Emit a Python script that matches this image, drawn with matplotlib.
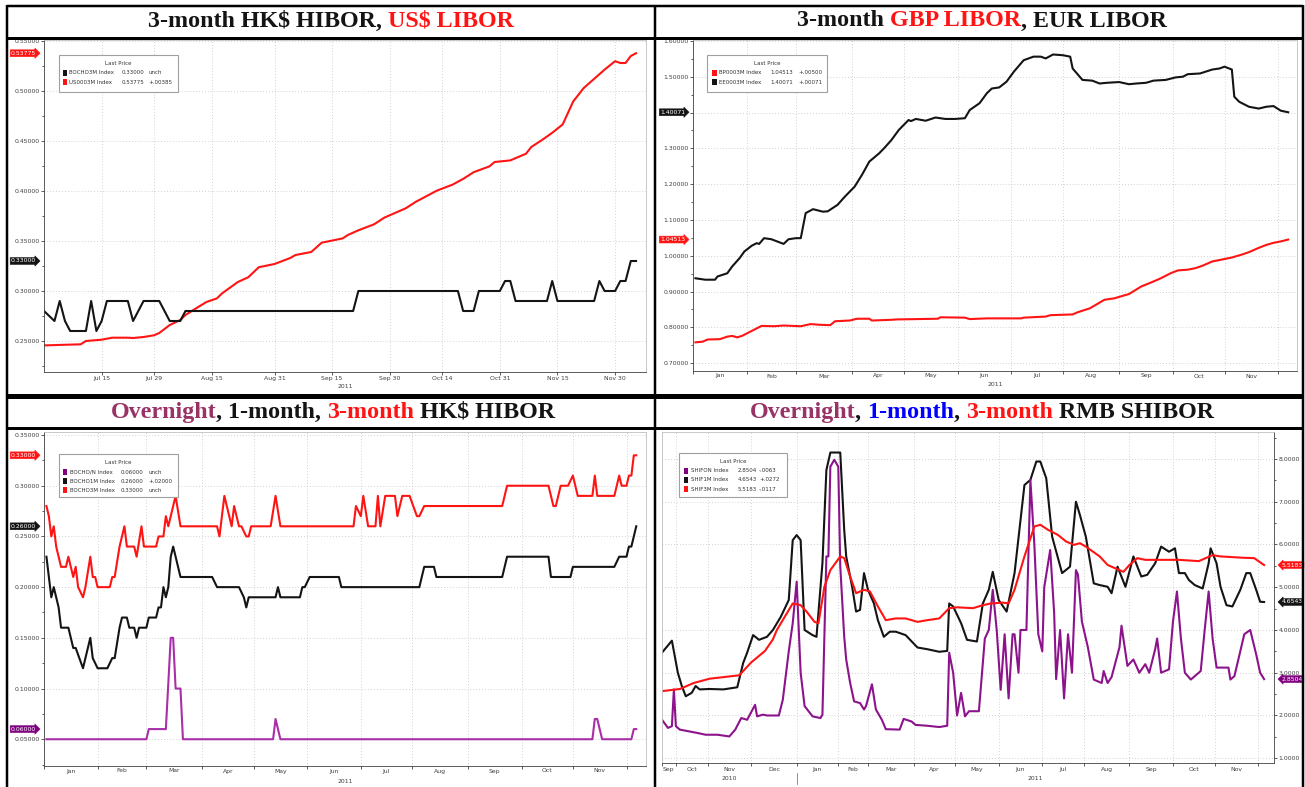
import numpy as np
import matplotlib
matplotlib.use("Agg")
import matplotlib.pyplot as plt
from matplotlib.patches import Rectangle
from matplotlib.lines import Line2D

W, H = 1305, 787
RED = "#ff1414"
BLACK = "#141414"
PURPLE_HK = "#a82fa8"
PURPLE_CN = "#8c138c"
PLUM = "#993366"
BLUE = "#0000ff"
SMALL = 4.4
LEG = 4.0

# ---------------- panel 1: 3M HIBOR / 3M USD LIBOR (business days from 2011-06-30)
p1_start = "2011-06-30"
p1_tick_dates = ["2011-07-15", "2011-07-29", "2011-08-15", "2011-08-31", "2011-09-15",
                 "2011-09-30", "2011-10-14", "2011-10-31", "2011-11-15", "2011-11-30"]
p1_tick_labels = ["Jul 15", "Jul 29", "Aug 15", "Aug 31", "Sep 15",
                  "Sep 30", "Oct 14", "Oct 31", "Nov 15", "Nov 30"]

hibor3m_day = [0, 2, 3, 4, 5, 8, 9, 10, 11, 12, 16, 17, 19, 22, 24, 26, 27, 59, 60, 79,
               80, 82, 83, 87, 88, 89, 90, 96, 97, 98, 105, 106, 107, 109, 110, 111, 112, 113]
hibor3m_rate = [0.28, 0.27, 0.29, 0.27, 0.26, 0.26, 0.29, 0.26, 0.27, 0.29,
                0.29, 0.27, 0.29, 0.29, 0.27, 0.27, 0.28, 0.28, 0.30, 0.30,
                0.28, 0.28, 0.30, 0.30, 0.31, 0.31, 0.29, 0.29, 0.31, 0.29,
                0.29, 0.31, 0.30, 0.30, 0.31, 0.31, 0.33, 0.33]

usd3m_day = [0, 7, 8, 11, 13, 16, 17, 19, 21, 22, 24, 26, 27, 29, 31, 33, 34, 37, 39, 41,
             44, 47, 48, 51, 53, 57, 58, 60, 63, 65, 69, 71, 75, 78, 80, 82, 85, 86, 89, 92,
             93, 95, 97, 99, 101, 103, 107, 109, 110, 111, 112, 113]
usd3m_rate = [0.2456, 0.2467, 0.2500, 0.2513, 0.2533, 0.2533, 0.2530, 0.2540, 0.2557, 0.2580,
              0.2660, 0.2710, 0.2760, 0.2826, 0.2890, 0.2926, 0.2977, 0.3090, 0.3138, 0.3238,
              0.3270, 0.3330, 0.3360, 0.3390, 0.3483, 0.3526, 0.3560, 0.3607, 0.3667, 0.3735,
              0.3826, 0.3893, 0.4004, 0.4064, 0.4121, 0.4188, 0.4246, 0.4290, 0.4306, 0.4373,
              0.4440, 0.4508, 0.4582, 0.4666, 0.4895, 0.5029, 0.5214, 0.5298, 0.5280, 0.5280,
              0.5350, 0.53775]

# ---------------- panels 2 and 3: business days from 2011-01-03
y2011_start = "2011-01-03"
y2011_bounds = ["2011-01-01", "2011-02-01", "2011-03-01", "2011-04-01", "2011-05-01", "2011-06-01",
                "2011-07-01", "2011-08-01", "2011-09-01", "2011-10-01", "2011-11-01", "2011-12-01"]
y2011_labels = ["Jan", "Feb", "Mar", "Apr", "May", "Jun", "Jul", "Aug", "Sep", "Oct", "Nov"]

eur3m_day = [0, 4, 8, 9, 13, 15, 18, 20, 23, 25, 26, 28, 31, 36, 38, 41, 43, 45, 48, 52,
             54, 58, 61, 65, 68, 71, 75, 77, 80, 83, 87, 88, 90, 94, 98, 102, 106, 110, 112, 116,
             119, 121, 124, 127, 130, 134, 138, 141, 143, 146, 150, 153, 154, 158, 162, 165, 168, 173, 177, 180,
             184, 187, 192, 196, 199, 201, 206, 211, 214, 216, 219, 220, 222, 226, 230, 233, 236, 239, 242]
eur3m_rate = [0.937, 0.933, 0.933, 0.942, 0.951, 0.970, 0.993, 1.012, 1.028, 1.035,
              1.033, 1.049, 1.046, 1.033, 1.046, 1.049, 1.049, 1.119, 1.130, 1.123,
              1.124, 1.142, 1.165, 1.193, 1.226, 1.263, 1.286, 1.300, 1.323, 1.351,
              1.379, 1.376, 1.382, 1.377, 1.386, 1.382, 1.382, 1.384, 1.407, 1.426,
              1.454, 1.467, 1.470, 1.486, 1.514, 1.546, 1.556, 1.556, 1.551, 1.562,
              1.560, 1.556, 1.523, 1.491, 1.489, 1.481, 1.483, 1.485, 1.479, 1.481,
              1.483, 1.489, 1.491, 1.498, 1.500, 1.507, 1.509, 1.520, 1.523, 1.528,
              1.520, 1.444, 1.430, 1.416, 1.411, 1.416, 1.418, 1.405, 1.40071]

gbp3m_day = [0, 3, 5, 10, 13, 15, 17, 19, 21, 25, 27, 32, 36, 43, 47, 51, 55, 57, 63, 66,
             71, 72, 80, 82, 99, 100, 110, 112, 119, 133, 134, 143, 145, 154, 156, 161, 167, 171, 177, 182,
             187, 190, 194, 197, 201, 204, 207, 211, 214, 219, 223, 226, 230, 233, 236, 239, 242]
gbp3m_rate = [0.758, 0.760, 0.766, 0.767, 0.774, 0.776, 0.772, 0.776, 0.783, 0.797,
              0.804, 0.803, 0.805, 0.803, 0.809, 0.807, 0.806, 0.817, 0.819, 0.824,
              0.824, 0.819, 0.821, 0.822, 0.824, 0.828, 0.827, 0.823, 0.825, 0.825,
              0.827, 0.830, 0.834, 0.836, 0.842, 0.853, 0.877, 0.881, 0.893, 0.914,
              0.928, 0.937, 0.951, 0.959, 0.961, 0.965, 0.972, 0.984, 0.988, 0.995,
              1.003, 1.010, 1.022, 1.030, 1.036, 1.040, 1.04513]

hk3m_day = [0, 1, 2, 3, 4, 6, 8, 9, 10, 11, 12, 13, 15, 16, 18, 19, 20, 21, 26, 27,
            28, 30, 32, 33, 36, 37, 39, 40, 45, 46, 48, 49, 50, 53, 55, 70, 71, 73, 76, 77,
            79, 80, 82, 83, 84, 92, 94, 96, 126, 127, 129, 130, 132, 135, 136, 137, 139, 143, 144, 146,
            149, 152, 153, 155, 187, 189, 206, 208, 209, 211, 214, 216, 218, 224, 225, 226, 233, 235, 236, 238,
            239, 240, 241, 242]
hk3m_rate = [0.28, 0.27, 0.25, 0.26, 0.24, 0.22, 0.22, 0.23, 0.22, 0.21,
             0.22, 0.20, 0.19, 0.20, 0.23, 0.21, 0.21, 0.20, 0.20, 0.21,
             0.21, 0.24, 0.26, 0.24, 0.24, 0.23, 0.26, 0.24, 0.24, 0.25,
             0.25, 0.27, 0.26, 0.29, 0.26, 0.26, 0.25, 0.29, 0.26, 0.28,
             0.26, 0.26, 0.25, 0.25, 0.26, 0.26, 0.29, 0.26, 0.26, 0.28,
             0.27, 0.29, 0.26, 0.26, 0.29, 0.26, 0.29, 0.29, 0.27, 0.29,
             0.29, 0.27, 0.27, 0.28, 0.28, 0.30, 0.30, 0.28, 0.28, 0.30,
             0.30, 0.31, 0.29, 0.29, 0.31, 0.29, 0.29, 0.31, 0.30, 0.30,
             0.31, 0.31, 0.33, 0.33]

hk1m_day = [0, 1, 2, 3, 5, 6, 9, 11, 12, 15, 18, 19, 21, 25, 27, 28, 30, 31, 33, 34,
            36, 37, 38, 41, 42, 45, 46, 47, 48, 49, 50, 51, 52, 54, 55, 68, 70, 79, 81, 82,
            83, 94, 95, 96, 104, 105, 106, 108, 120, 121, 153, 155, 159, 160, 187, 189, 206, 207, 215, 216,
            233, 235, 238, 239, 240, 242]
hk1m_rate = [0.23, 0.21, 0.19, 0.20, 0.18, 0.16, 0.16, 0.14, 0.14, 0.12,
             0.15, 0.13, 0.12, 0.12, 0.13, 0.13, 0.16, 0.17, 0.17, 0.16,
             0.16, 0.15, 0.16, 0.16, 0.17, 0.17, 0.18, 0.18, 0.20, 0.19,
             0.20, 0.23, 0.24, 0.22, 0.21, 0.21, 0.20, 0.20, 0.19, 0.18,
             0.19, 0.19, 0.20, 0.19, 0.19, 0.20, 0.20, 0.21, 0.21, 0.20,
             0.20, 0.22, 0.22, 0.21, 0.21, 0.23, 0.23, 0.21, 0.21, 0.22,
             0.22, 0.23, 0.23, 0.24, 0.24, 0.26]

hkon_day = [0, 41, 42, 49, 51, 52, 53, 55, 56, 93, 94, 96, 224, 225, 226, 228, 240, 241, 242]
hkon_rate = [0.05, 0.05, 0.06, 0.06, 0.15, 0.15, 0.10, 0.10, 0.05, 0.05,
             0.07, 0.05, 0.05, 0.07, 0.07, 0.05, 0.05, 0.06, 0.06]

# ---------------- panel 4: SHIBOR, Chinese business days from 2010-09-22
cn_start = "2010-09-22"
cn_holidays = ["2010-10-01", "2010-10-04", "2010-10-05", "2010-10-06", "2010-10-07",
               "2011-02-02", "2011-02-03", "2011-02-04", "2011-02-07", "2011-02-08"]
cn_bounds = ["2010-09-22", "2010-10-01", "2010-11-01", "2010-12-01", "2011-01-01", "2011-02-01",
             "2011-03-01", "2011-04-01", "2011-05-01", "2011-06-01", "2011-07-01", "2011-08-01",
             "2011-09-01", "2011-10-01", "2011-11-01", "2011-12-01"]
cn_labels = ["Sep", "Oct", "Nov", "Dec", "Jan", "Feb", "Mar", "Apr", "May", "Jun",
             "Jul", "Aug", "Sep", "Oct", "Nov"]

shib1m_day = [0, 5, 8, 10, 12, 15, 17, 19, 24, 31, 38, 41, 43, 46, 49, 53, 56, 60, 64, 66,
              68, 70, 72, 76, 78, 81, 83, 85, 90, 92, 93, 96, 98, 100, 102, 104, 107, 109, 112, 115,
              118, 123, 129, 134, 140, 144, 145, 147, 151, 154, 159, 162, 165, 167, 170, 174, 178, 183, 186, 189,
              191, 194, 197, 202, 206, 209, 211, 214, 218, 221, 225, 227, 230, 234, 238, 242, 245, 249, 252, 256,
              259, 261, 264, 266, 269, 273, 276, 277, 280, 282, 285, 288, 292, 295, 297, 300, 302, 304]
shib1m_rate = [3.47, 3.75, 3.00, 2.69, 2.45, 2.53, 2.69, 2.61, 2.62, 2.61,
               2.66, 3.23, 3.47, 3.88, 3.77, 3.84, 4.00, 4.31, 4.70, 6.10,
               6.22, 6.10, 4.00, 3.88, 3.84, 5.56, 7.74, 8.15, 8.15, 6.34,
               5.72, 5.01, 4.43, 4.47, 5.33, 4.94, 4.62, 4.23, 3.84, 3.96,
               3.96, 3.88, 3.59, 3.55, 3.49, 3.51, 4.62, 4.55, 4.16, 3.77,
               3.73, 4.62, 4.94, 5.36, 4.70, 4.43, 5.33, 7.39, 7.51, 7.94,
               7.94, 7.55, 6.18, 5.33, 5.48, 7.00, 6.69, 6.18, 5.09, 5.05,
               5.01, 4.86, 5.48, 5.01, 5.72, 5.25, 5.29, 5.56, 5.95, 5.83,
               5.91, 5.33, 5.33, 5.17, 5.05, 4.97, 5.56, 5.91, 5.56, 5.01,
               4.58, 4.55, 4.94, 5.33, 5.33, 4.94, 4.66, 4.6543]

shib3m_day = [0, 9, 16, 24, 39, 45, 52, 56, 58, 62, 66, 70, 73, 77, 79, 82, 85, 90, 92, 95,
              98, 102, 105, 109, 113, 118, 123, 129, 134, 140, 145, 149, 157, 162, 166, 172, 175, 178, 183, 188,
              191, 195, 200, 204, 208, 211, 214, 221, 225, 229, 233, 236, 240, 244, 250, 261, 271, 278, 282, 293,
              299, 303, 304]
shib3m_rate = [2.57, 2.62, 2.76, 2.86, 2.94, 3.24, 3.51, 3.78, 4.00, 4.31,
               4.62, 4.58, 4.43, 4.19, 4.16, 5.01, 5.40, 5.72, 5.68, 5.25,
               4.86, 4.94, 4.90, 4.55, 4.23, 4.27, 4.27, 4.19, 4.23, 4.27,
               4.51, 4.53, 4.51, 4.58, 4.62, 4.64, 4.62, 4.94, 5.72, 6.42,
               6.46, 6.34, 6.22, 6.07, 5.99, 6.03, 5.95, 5.72, 5.52, 5.44,
               5.36, 5.52, 5.68, 5.64, 5.64, 5.64, 5.61, 5.75, 5.72, 5.69,
               5.68, 5.55, 5.5183]

shibon_day = [0, 3, 5, 6, 7, 9, 18, 22, 28, 34, 37, 40, 43, 47, 48, 51, 53, 59, 61, 64,
              66, 68, 70, 72, 76, 80, 81, 83, 84, 85, 87, 89, 90, 92, 93, 95, 97, 100, 102, 103,
              106, 108, 111, 113, 120, 122, 126, 128, 134, 140, 144, 145, 147, 149, 151, 153, 155, 160, 163, 165,
              167, 169, 171, 173, 175, 177, 178, 180, 181, 184, 186, 188, 190, 192, 193, 196, 198, 199, 201, 203,
              205, 207, 209, 210, 212, 215, 218, 220, 222, 223, 225, 227, 231, 232, 235, 238, 241, 244, 246, 249,
              250, 252, 256, 258, 260, 262, 264, 267, 272, 274, 276, 278, 280, 286, 287, 289, 291, 294, 297, 300,
              302, 304]
shibon_rate = [1.90, 1.71, 1.75, 2.61, 1.75, 1.67, 1.59, 1.55, 1.55, 1.51,
               1.67, 1.94, 1.90, 2.25, 1.98, 2.02, 2.00, 2.00, 2.37, 3.50,
               4.16, 5.13, 3.00, 2.22, 1.98, 1.94, 2.02, 5.72, 5.72, 7.82,
               7.98, 7.82, 5.50, 3.84, 3.31, 2.76, 2.33, 2.29, 2.14, 2.22,
               2.73, 2.14, 1.90, 1.68, 1.67, 1.92, 1.86, 1.78, 1.76, 1.73,
               1.76, 3.47, 3.00, 2.00, 2.53, 1.98, 2.10, 2.10, 3.80, 4.00,
               4.94, 4.00, 2.60, 3.90, 2.40, 3.90, 3.90, 3.00, 4.00, 4.00,
               7.51, 6.00, 3.90, 3.50, 5.00, 5.87, 4.40, 2.85, 4.00, 2.40,
               3.90, 3.00, 5.40, 5.30, 4.20, 3.60, 2.84, 2.80, 2.76, 3.04,
               2.76, 2.90, 3.60, 4.10, 3.16, 3.31, 3.00, 3.20, 3.00, 3.55,
               3.80, 3.00, 3.08, 4.20, 4.90, 3.80, 3.00, 2.84, 3.04, 4.00,
               4.90, 3.80, 3.12, 3.12, 2.84, 2.92, 3.31, 3.90, 4.00, 3.43,
               3.00, 2.8504]

# legend tickers / last change, as printed on the Bloomberg screens
p1_legend = [("BOCHO3M", "unch"), ("US0003M", "+.00385")]
p2_legend = [("BP0003M", "+.00500"), ("EE0003M", "+.00071")]
p3_legend = [("BOCHO/N", "unch"), ("BOCHO1M", "+.02000"), ("BOCHO3M", "unch")]
p4_legend = [("SHIFON", "-.0063"), ("SHIF1M", "+.0272"), ("SHIF3M", "-.0117")]


def frect(x0, y0, x1, y1):
    return [x0 / W, 1 - y1 / H, (x1 - x0) / W, (y1 - y0) / H]


fig = plt.figure(figsize=(W / 100, H / 100), dpi=100)
fig.patch.set_facecolor("white")


def base_axes(rect, xlim, ylim, yticks, yminor, fmt, side="left", tags=()):
    ax = fig.add_axes(frect(*rect))
    ax.set_xlim(*xlim)
    ax.set_ylim(*ylim)
    ax.set_yticks(yticks)
    # a last-price tag drawn on top of a tick label hides it, as on the terminal
    span = ylim[1] - ylim[0]
    ax.set_yticklabels(["" if any(abs(v - t) < 0.03 * span for t in tags) else fmt % v
                        for v in yticks])
    ax.set_yticks(yminor, minor=True)
    ax.grid(True, which="major", color="#c4c4c4", ls=(0, (1, 2.5)), lw=0.6)
    for s in ax.spines.values():
        s.set_color("#c0c0c0")
        s.set_linewidth(0.6)
    ax.spines["bottom"].set_color("#404040")
    ax.spines[side].set_color("#404040")
    ax.tick_params(which="both", labelsize=SMALL, colors="#404040", direction="out",
                   width=0.6, length=2.2, pad=1.0)
    ax.tick_params(axis="y", which="minor", length=1.5)
    if side == "right":
        ax.yaxis.tick_right()
    ax.set_axisbelow(True)
    return ax


def month_axis(ax, start, bounds, labels, holidays=(), pad=1.8):
    pos = np.busday_count(start, bounds, holidays=list(holidays))
    ax.set_xticks(pos)
    ax.set_xticklabels([])
    ax.set_xticks((pos[:-1] + pos[1:]) / 2, minor=True)
    ax.set_xticklabels(labels, minor=True)
    ax.tick_params(axis="x", which="minor", length=0, pad=pad)
    return pos


def year_label(ax, x, text, dy_px):
    h = ax.get_position().height * H
    ax.text(x, -dy_px / h, text, transform=ax.get_xaxis_transform(), ha="center", va="center",
            fontsize=SMALL, color="#404040", clip_on=False)


def value_tag(ax, value, text, color, side="left"):
    if side == "left":
        ax.annotate(text, xy=(0, value), xycoords=("axes fraction", "data"), xytext=(-5.5, 0),
                    textcoords="offset points", ha="right", va="center", fontsize=SMALL,
                    color="white", annotation_clip=False, zorder=6,
                    bbox=dict(boxstyle="rarrow,pad=0.15", fc=color, ec=color, lw=0.4))
    else:
        ax.annotate(text, xy=(1, value), xycoords=("axes fraction", "data"), xytext=(5.5, 0),
                    textcoords="offset points", ha="left", va="center", fontsize=SMALL,
                    color="white", annotation_clip=False, zorder=6,
                    bbox=dict(boxstyle="larrow,pad=0.15", fc=color, ec=color, lw=0.4))


def legend_box(x0, y0, x1, y1, rows, offs):
    fig.add_artist(Rectangle((x0 / W, 1 - y1 / H), (x1 - x0) / W, (y1 - y0) / H,
                             transform=fig.transFigure, fc="white", ec="#a0a0a0", lw=0.8, zorder=5))
    fig.text((x0 + x1) / 2 / W, 1 - (y0 + 8.5) / H, "Last Price", ha="center", va="center",
             fontsize=LEG, color="#333333", zorder=6)
    for k, (color, name, value, change) in enumerate(rows):
        yy = y0 + 18 + k * 9.2
        fig.add_artist(Rectangle(((x0 + offs[0]) / W, 1 - (yy + 3) / H), 4.5 / W, 6 / H,
                                 transform=fig.transFigure, fc=color, ec="none", zorder=6))
        for dx, s in zip(offs[1:], (name + " Index", value, change)):
            fig.text((x0 + dx) / W, 1 - yy / H, s, ha="left", va="center", fontsize=LEG,
                     color="#333333", zorder=6)


LW = 1.5

# ---------------- panel 1
ax1 = base_axes((44, 40, 646, 372), (0, 114.9), (0.219, 0.551),
                np.arange(0.25, 0.551, 0.05), np.arange(0.225, 0.551, 0.05), "%.5f")
ax1.set_xticks(np.busday_count(p1_start, p1_tick_dates))
ax1.set_xticklabels(p1_tick_labels)
ax1.plot(usd3m_day, usd3m_rate, color=RED, lw=LW)
ax1.plot(hibor3m_day, hibor3m_rate, color=BLACK, lw=LW)
year_label(ax1, np.mean(ax1.get_xlim()), "2011", 14.5)
value_tag(ax1, usd3m_rate[-1], "%.5f" % usd3m_rate[-1], RED)
value_tag(ax1, hibor3m_rate[-1], "%.5f" % hibor3m_rate[-1], BLACK)
legend_box(58.6, 55, 177.8, 91.7,
           [(BLACK, p1_legend[0][0], "%.5f" % hibor3m_rate[-1], p1_legend[0][1]),
            (RED, p1_legend[1][0], "%.5f" % usd3m_rate[-1], p1_legend[1][1])],
           (4, 10.5, 63, 90))

# ---------------- panel 2
ax2 = base_axes((693, 40, 1297, 371), (0, 245.6), (0.678, 1.6025),
                np.arange(0.7, 1.601, 0.1), np.arange(0.75, 1.601, 0.1), "%.5f",
                tags=(eur3m_rate[-1], gbp3m_rate[-1]))
month_axis(ax2, y2011_start, y2011_bounds, y2011_labels)
ax2.plot(eur3m_day, eur3m_rate, color=BLACK, lw=LW)
ax2.plot(gbp3m_day, gbp3m_rate, color=RED, lw=LW)
year_label(ax2, np.mean(ax2.get_xlim()), "2011", 14)
value_tag(ax2, eur3m_rate[-1], "%.5f" % eur3m_rate[-1], BLACK)
value_tag(ax2, gbp3m_rate[-1], "%.5f" % gbp3m_rate[-1], RED)
legend_box(707, 55, 826.5, 91.7,
           [(RED, p2_legend[0][0], "%.5f" % gbp3m_rate[-1], p2_legend[0][1]),
            (BLACK, p2_legend[1][0], "%.5f" % eur3m_rate[-1], p2_legend[1][1])],
           (5, 12, 63, 91))

# ---------------- panel 3
ax3 = base_axes((44, 432, 646, 766), (0, 246), (0.0236, 0.353),
                np.arange(0.05, 0.351, 0.05), np.arange(0.025, 0.351, 0.05), "%.5f")
month_axis(ax3, y2011_start, y2011_bounds, y2011_labels)
ax3.plot(hkon_day, hkon_rate, color=PURPLE_HK, lw=LW)
ax3.plot(hk1m_day, hk1m_rate, color=BLACK, lw=LW)
ax3.plot(hk3m_day, hk3m_rate, color=RED, lw=LW)
year_label(ax3, np.mean(ax3.get_xlim()), "2011", 15.5)
value_tag(ax3, hk3m_rate[-1], "%.5f" % hk3m_rate[-1], RED)
value_tag(ax3, hk1m_rate[-1], "%.5f" % hk1m_rate[-1], BLACK)
value_tag(ax3, hkon_rate[-1], "%.5f" % hkon_rate[-1], "#800080")
legend_box(58.6, 454, 177.8, 496.7,
           [("#800080", p3_legend[0][0], "%.5f" % hkon_rate[-1], p3_legend[0][1]),
            (BLACK, p3_legend[1][0], "%.5f" % hk1m_rate[-1], p3_legend[1][1]),
            (RED, p3_legend[2][0], "%.5f" % hk3m_rate[-1], p3_legend[2][1])],
           (4, 11.5, 62.5, 90))

# ---------------- panel 4
ax4 = base_axes((662, 432, 1274, 763), (0, 309), (0.889, 8.63),
                np.arange(1, 8.01, 1.0), np.arange(1.5, 8.6, 1.0), "%.4f", side="right")
pos4 = month_axis(ax4, cn_start, cn_bounds, cn_labels, cn_holidays, pad=2.6)
ax4.plot(shib1m_day, shib1m_rate, color=BLACK, lw=LW)
ax4.plot(shibon_day, shibon_rate, color=PURPLE_CN, lw=LW)
ax4.plot(shib3m_day, shib3m_rate, color=RED, lw=LW)
jan = pos4[cn_bounds.index("2011-01-01")]
year_label(ax4, jan / 2, "2010", 15)
year_label(ax4, (jan + ax4.get_xlim()[1]) / 2, "2011", 15)
h4 = ax4.get_position().height * H
ax4.plot([jan, jan], [-10 / h4, -21 / h4], transform=ax4.get_xaxis_transform(),
         color="#808080", lw=0.6, clip_on=False)
value_tag(ax4, shib3m_rate[-1], "%.4f" % shib3m_rate[-1], RED, side="right")
value_tag(ax4, shib1m_rate[-1], "%.4f" % shib1m_rate[-1], BLACK, side="right")
value_tag(ax4, shibon_rate[-1], "%.4f" % shibon_rate[-1], "#800080", side="right")
legend_box(679, 452.7, 787, 496.7,
           [("#800080", p4_legend[0][0], "%.4f" % shibon_rate[-1], p4_legend[0][1]),
            (BLACK, p4_legend[1][0], "%.4f" % shib1m_rate[-1], p4_legend[1][1]),
            (RED, p4_legend[2][0], "%.4f" % shib3m_rate[-1], p4_legend[2][1])],
           (4.5, 11.5, 58.5, 80))

# ---------------- titles with coloured words
renderer = fig.canvas.get_renderer()


def title(xc, yc, parts, size=17.3):
    texts = [fig.text(0, 1 - yc / H, s, color=c, fontsize=size, fontweight="bold",
                      family="Liberation Serif", ha="left", va="center") for s, c in parts]
    widths = [t.get_window_extent(renderer).width for t in texts]
    x = xc - sum(widths) / 2
    for t, w in zip(texts, widths):
        t.set_x(x / W)
        x += w


title(331, 21, [("3-month HK$ HIBOR, ", BLACK), ("US$ LIBOR", RED)])
title(982, 21, [("3-month ", BLACK), ("GBP LIBOR", RED), (", EUR LIBOR", BLACK)])
title(333, 412, [("Overnight", PLUM), (", 1-month, ", BLACK), ("3-month", RED), (" HK$ HIBOR", BLACK)])
title(982, 412, [("Overnight", PLUM), (", ", BLACK), ("1-month", BLUE), (", ", BLACK),
                 ("3-month", RED), (" RMB SHIBOR", BLACK)])


# ---------------- table grid
def hline(y, x0=7, x1=1303, px=3):
    fig.add_artist(Line2D([x0 / W, x1 / W], [1 - y / H, 1 - y / H], transform=fig.transFigure,
                          color="black", lw=px * 0.72, solid_capstyle="butt"))


def vline(x, y0=5, y1=787, px=2.5):
    fig.add_artist(Line2D([x / W, x / W], [1 - y0 / H, 1 - y1 / H], transform=fig.transFigure,
                          color="black", lw=px * 0.72, solid_capstyle="butt"))


hline(6, px=2.5)
hline(38)
hline(395.5, px=5)
hline(428)
vline(7)
vline(655)
vline(1303)

fig.savefig("out.png", dpi=100)
